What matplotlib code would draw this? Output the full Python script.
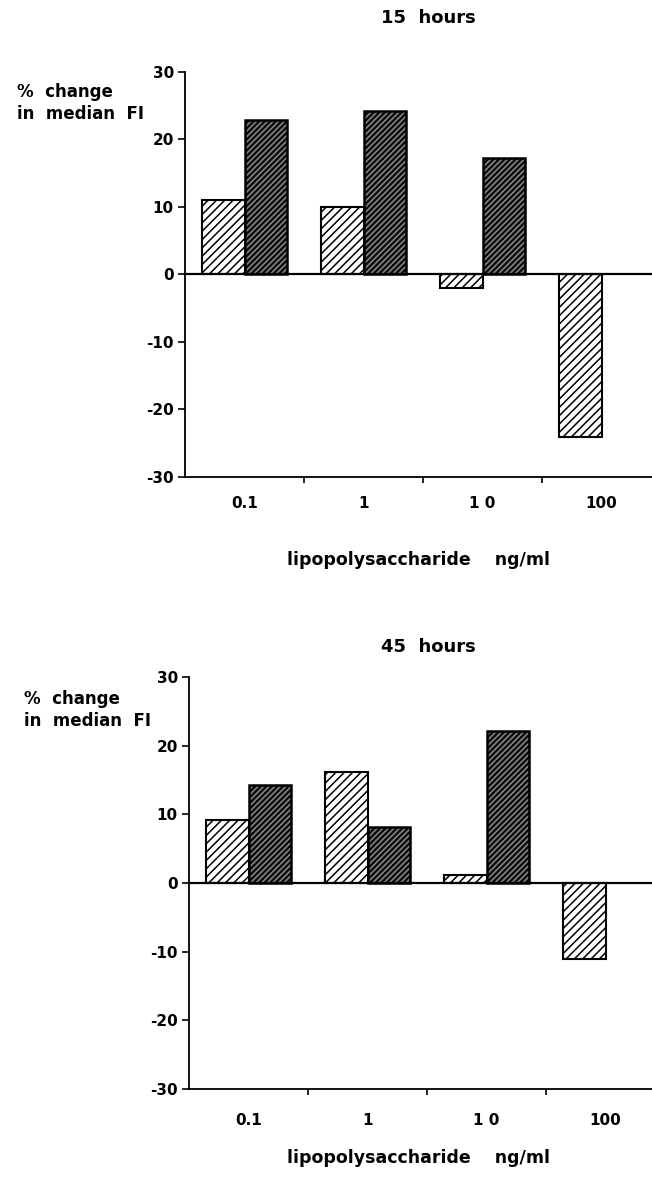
import matplotlib
matplotlib.use("Agg")
import matplotlib.pyplot as plt
import numpy as np

plt.rcParams['font.family'] = ['DejaVu Sans']
plt.rcParams['font.weight'] = 'bold'
plt.rcParams['hatch.linewidth'] = 1.1

categories = ["0.1", "1", "1 0", "100"]
titles = ["15  hours", "45  hours"]
light_15h = [11.0, 10.0, -2.0, -24.1]
dark_15h = [22.9, 24.2, 17.2, 0.0]
light_45h = [9.2, 16.2, 1.1, -11.1]
dark_45h = [14.3, 8.1, 22.2, 0.0]
yticks = [-30, -20, -10, 0, 10, 20, 30]
xlabel = "lipopolysaccharide    ng/ml"
ylabel = "%  change\nin  median  FI"

W, H = 652, 1181
fig = plt.figure(figsize=(W / 100, H / 100), dpi=100)

panels = [
    dict(light=light_15h, dark=dark_15h, title=titles[0],
         left=185, top=72, bottom=477, title_y=18, xl_y=560, yl_x=17, yl_y=103, xpad=14),
    dict(light=light_45h, dark=dark_45h, title=titles[1],
         left=189, top=677, bottom=1089, title_y=647, xl_y=1158, yl_x=24, yl_y=710, xpad=17),
]

bw = 0.36
for p in panels:
    l = p['left'] / W
    b = 1 - p['bottom'] / H
    h = (p['bottom'] - p['top']) / H
    ax = fig.add_axes([l, b, 1 - l, h])
    x = np.arange(len(categories))
    cat_w = 119.0
    right_val = -0.5 + (W - p['left']) / cat_w
    ax.set_xlim(-0.5, right_val)
    ax.set_ylim(-30, 30)

    # light bars
    ax.bar(x - bw / 2, p['light'], width=bw, facecolor='white', edgecolor='black',
           hatch='////', linewidth=1.5, zorder=2)
    # dark bars: fill + hatch, then outline
    dark = np.array(p['dark'])
    mask = dark != 0
    ax.bar((x + bw / 2)[mask], dark[mask], width=bw, facecolor='#0a0a0a', edgecolor='#8a8a8a',
           hatch='//////', linewidth=0, zorder=2)
    ax.bar((x + bw / 2)[mask], dark[mask], width=bw, fill=False, edgecolor='black',
           linewidth=1.8, zorder=3)

    ax.axhline(0, color='black', linewidth=1.6, zorder=4)

    for s in ['top', 'right']:
        ax.spines[s].set_visible(False)
    ax.spines['left'].set_linewidth(1.3)
    ax.spines['bottom'].set_linewidth(1.3)

    ax.set_yticks(yticks)
    ax.set_yticklabels([str(t) for t in yticks], fontsize=11, fontweight='bold')
    ax.tick_params(axis='y', direction='out', length=5, width=1.2, pad=3)

    ax.set_xticks(x)
    ax.set_xticklabels(categories, fontsize=11, fontweight='bold')
    ax.tick_params(axis='x', which='major', length=0, pad=p['xpad'])
    ax.set_xticks([0.5, 1.5, 2.5], minor=True)
    ax.tick_params(axis='x', which='minor', direction='out', length=4, width=1.2)

    fig.text(428 / W, 1 - p['title_y'] / H, p['title'], ha='center', va='center',
             fontsize=13, fontweight='bold')
    fig.text(419 / W, 1 - p['xl_y'] / H, xlabel, ha='center', va='center',
             fontsize=12.5, fontweight='bold')
    fig.text(p['yl_x'] / W, 1 - p['yl_y'] / H, ylabel, ha='left', va='center',
             fontsize=12, fontweight='bold', linespacing=1.25)

fig.savefig("out.png", dpi=100)
